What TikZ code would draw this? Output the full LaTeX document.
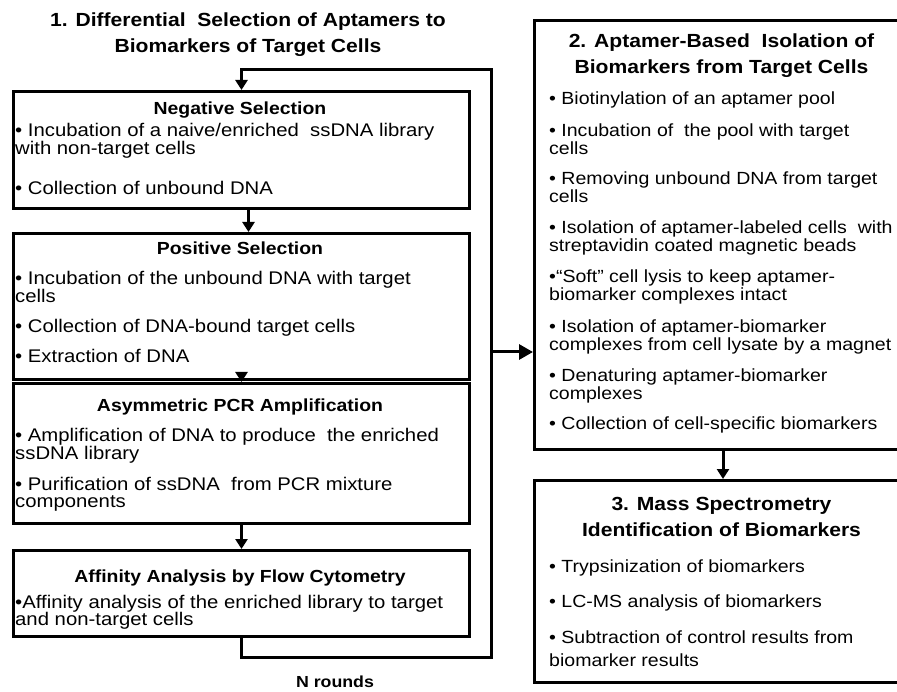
\documentclass[tikz,border=0pt]{standalone}
\usepackage{fontspec}
\setmainfont{Liberation Sans}[FakeStretch=1.11]
\usetikzlibrary{arrows.meta}

\tikzset{
  box/.style={draw, line width=3pt, inner sep=0pt, anchor=north west},
  head/.style={font=\bfseries\fontsize{17.5}{17}\selectfont, anchor=base, inner sep=0pt},
  sect/.style={font=\bfseries\fontsize{19}{26}\selectfont, align=center, anchor=base, inner sep=0pt},
  item/.style={font=\fontsize{18.3}{17.5}\selectfont, align=left, anchor=base west, inner sep=0pt},
  ritem/.style={item, font=\fontsize{17.6}{17.5}\selectfont},
  link/.style={line width=3pt},
  arr/.style={link, -{Triangle[length=10pt,width=12pt]}},
}

\begin{document}
\begin{tikzpicture}[x=1pt,y=-1pt]
\useasboundingbox (0,0) rectangle (897,692);

% ---------------- 1. Differential selection ----------------
% (multi-line texts sit on the baseline of their last line)
\node[sect] (t1) at (248,53) {1. Differential\ \ Selection of Aptamers to\\Biomarkers of Target Cells};

\node[box, minimum width=456pt, minimum height=117pt] (neg) at (12,90) {};
\node[box, minimum width=456pt, minimum height=146pt] (pos) at (12,232) {};
\node[box, minimum width=456pt, minimum height=140pt] (asym) at (12,382) {};
\node[box, minimum width=456pt, minimum height=86pt] (aff) at (12,549) {};

\node[head] (negh) at (240,115) {Negative Selection};
\node[item] (neg1) at (15,154.5) {• Incubation of a naive/enriched\ \ ssDNA library\\with non-target cells};
\node[item] (neg2) at (15,195) {• Collection of unbound DNA};

\node[head] (posh) at (240,255) {Positive Selection};
\node[item] (pos1) at (15,302.5) {• Incubation of the unbound DNA with target\\cells};
\node[item] (pos2) at (15,333) {• Collection of DNA-bound target cells};
\node[item] (pos3) at (15,363) {• Extraction of DNA};

\node[head] (asymh) at (240,412) {Asymmetric PCR Amplification};
\node[item] (asym1) at (15,459.5) {• Amplification of DNA to produce\ \ the enriched\\ssDNA library};
\node[item] (asym2) at (15,507.5) {• Purification of ssDNA\ \ from PCR mixture\\components};

\node[head] (affh) at (240,582) {Affinity\ Analysis\ by\ Flow\ Cytometry};
\node[item] (aff1) at (15,625.5) {•Affinity analysis of the enriched library to target\\and non-target cells};

% selection steps
\draw[arr] ([xshift=7pt]neg.south) -- ([xshift=7pt]pos.north);
\draw[arr] ([yshift=8pt]pos.south) -- (asym.north);
\draw[arr] (asym.south) -- (aff.north);

% loop of N rounds
\coordinate (loopbr) at (491,657);
\coordinate (looptr) at (491,70);
\coordinate (split) at (491,352);
\draw[arr] (aff.south) |- (loopbr) -- (looptr) -| (neg.north);
\node[head, font=\bfseries\fontsize{16}{16}\selectfont] (nr) at (335,687) {N rounds};

% ---------------- 2. Isolation ----------------
\node[box, minimum width=377pt, minimum height=429pt] (iso) at (533,19) {};
\node[sect] (t2) at (721.5,74) {2. Aptamer-Based\ \ Isolation of\\Biomarkers from Target Cells};
\node[ritem] (iso1) at (549,105) {• Biotinylation of an aptamer pool};
\node[ritem] (iso2) at (549,154.5) {• Incubation of\ \ the pool with target\\cells};
\node[ritem] (iso3) at (549,202.5) {• Removing unbound DNA from target\\cells};
\node[ritem] (iso4) at (549,251.5) {• Isolation of aptamer-labeled cells\ \ with\\streptavidin coated magnetic beads};
\node[ritem] (iso5) at (549,300.5) {•“Soft” cell lysis to keep aptamer-\\biomarker complexes intact};
\node[ritem] (iso6) at (549,350.5) {• Isolation of aptamer-biomarker\\complexes from cell lysate by a magnet};
\node[ritem] (iso7) at (549,399.5) {• Denaturing aptamer-biomarker\\complexes};
\node[ritem] (iso8) at (549,430) {• Collection of cell-specific biomarkers};

\draw[link, -{Triangle[length=14pt,width=15pt]}] (split) -- (split -| iso.west);

% ---------------- 3. Mass spectrometry ----------------
\node[box, minimum width=377pt, minimum height=202pt] (ms) at (533,479) {};
\node[sect] (t3) at (721.5,536) {3. Mass Spectrometry\\Identification of Biomarkers};
\node[ritem] (ms1) at (549,572) {• Trypsinization of biomarkers};
\node[ritem] (ms2) at (549,607) {• LC-MS analysis of biomarkers};
\node[ritem] (ms3) at (549,666.5) {• Subtraction of control results from\\[6pt]biomarker results};

\draw[arr] (iso.south) -- (ms.north);

\end{tikzpicture}
\end{document}
